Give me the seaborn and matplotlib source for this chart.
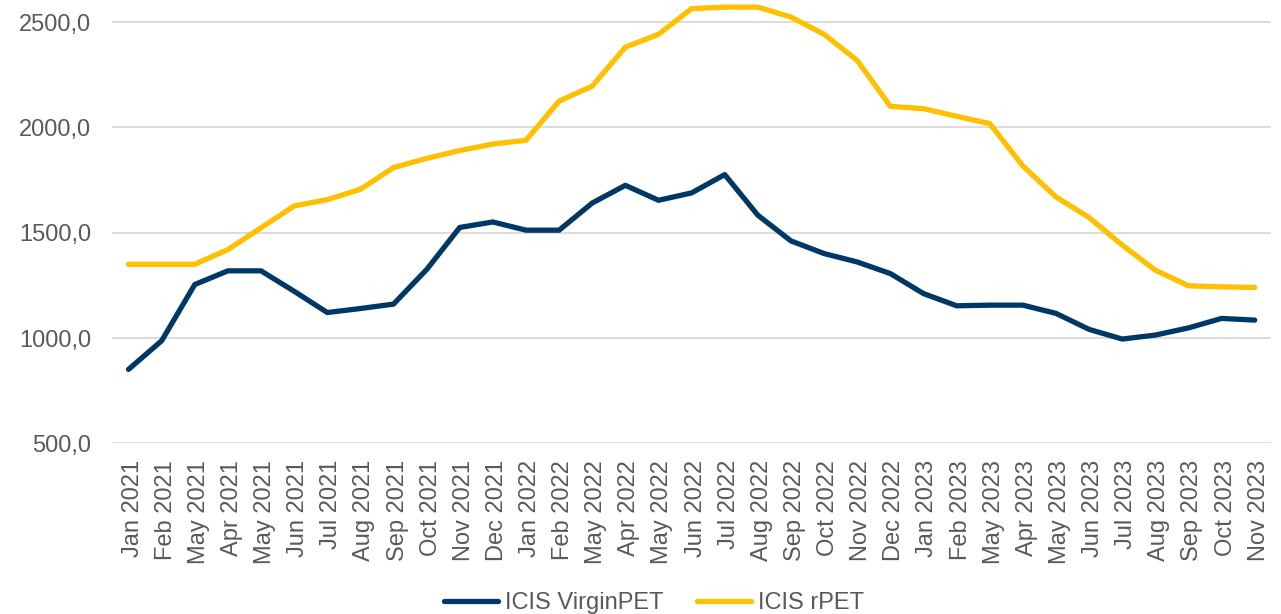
import numpy as np
import pandas as pd
import matplotlib
matplotlib.use("Agg")
import matplotlib.pyplot as plt
import matplotlib.transforms as mtransforms
import seaborn as sns

sns.set_style("white")
plt.rcParams['font.family'] = ['Liberation Sans', 'DejaVu Sans']

# Month labels as printed on the chart (the source repeats "May")
months = ["Jan 2021", "Feb 2021", "May 2021", "Apr 2021", "May 2021", "Jun 2021",
          "Jul 2021", "Aug 2021", "Sep 2021", "Oct 2021", "Nov 2021", "Dec 2021",
          "Jan 2022", "Feb 2022", "May 2022", "Apr 2022", "May 2022", "Jun 2022",
          "Jul 2022", "Aug 2022", "Sep 2022", "Oct 2022", "Nov 2022", "Dec 2022",
          "Jan 2023", "Feb 2023", "May 2023", "Apr 2023", "May 2023", "Jun 2023",
          "Jul 2023", "Aug 2023", "Sep 2023", "Oct 2023", "Nov 2023"]

virgin_pet = [851, 987, 1254, 1319, 1319, 1222, 1121, 1140, 1161, 1325, 1525, 1551,
              1512, 1512, 1641, 1725, 1654, 1689, 1776, 1583, 1461, 1401, 1361, 1306,
              1211, 1153, 1156, 1156, 1117, 1041, 995, 1014, 1048, 1093, 1085]

r_pet = [1350, 1350, 1350, 1420, 1523, 1627, 1657, 1706, 1809, 1853, 1890, 1921,
         1939, 2125, 2196, 2381, 2442, 2564, 2571, 2571, 2524, 2442, 2318, 2100,
         2089, 2053, 2018, 1817, 1670, 1572, 1441, 1322, 1248, 1243, 1240]

series_names = ["ICIS VirginPET", "ICIS rPET"]
colors = ["#003865", "#FFC000"]

# Index positions instead of labels, since month labels repeat
idx = np.arange(len(months))
df = pd.concat([
    pd.DataFrame({"idx": idx, "value": virgin_pet, "series": series_names[0]}),
    pd.DataFrame({"idx": idx, "value": r_pet, "series": series_names[1]}),
])

fig = plt.figure(figsize=(12.81, 6.14), dpi=100)
ax = fig.add_axes([0.0874, 0.278, 0.905, 0.722])

sns.lineplot(data=df, x="idx", y="value", hue="series", palette=colors,
             linewidth=3.8, ax=ax, legend=False, sort=False)
for line in ax.get_lines():
    line.set_solid_capstyle("round")
    line.set_solid_joinstyle("round")

text_color = "#595959"
ax.set_xlim(-0.5, len(months) - 0.5)
ax.set_ylim(500, 2605)
ax.set_yticks([500, 1000, 1500, 2000, 2500])
ax.set_yticklabels(["500,0", "1000,0", "1500,0", "2000,0", "2500,0"],
                   fontsize=17, color=text_color)
ax.set_xticks(idx)
ax.set_xticklabels(months, rotation=90, fontsize=17, color=text_color)
ax.tick_params(axis="y", length=0, pad=15)
ax.tick_params(axis="x", length=0, pad=12)
ax.yaxis.grid(True, color="#D9D9D9", linewidth=1.3)
ax.set_axisbelow(True)
for s in ax.spines.values():
    s.set_visible(False)
ax.set_xlabel("")
ax.set_ylabel("")

# nudge rotated month labels a few pixels right, like the original
offset = mtransforms.ScaledTranslation(4 / 100, 0, fig.dpi_scale_trans)
for lbl in ax.get_xticklabels():
    lbl.set_transform(lbl.get_transform() + offset)

handles = [plt.Line2D([], [], color=c, linewidth=3.8, solid_capstyle="round")
           for c in colors]
leg = fig.legend(handles, series_names, loc="lower center",
                 bbox_to_anchor=(654 / 1281, -0.035), ncol=2, frameon=False,
                 fontsize=17, handlelength=2.3, handletextpad=0.3,
                 columnspacing=1.4)
for t in leg.get_texts():
    t.set_color(text_color)

fig.savefig("out.png", dpi=100)
